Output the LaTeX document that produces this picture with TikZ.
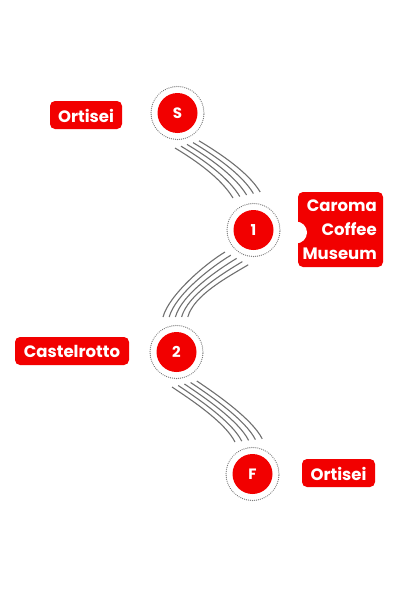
\documentclass[tikz,border=0pt]{standalone}
\usepackage{fontspec}
\setmainfont{Poppins}
\definecolor{mred}{HTML}{F20000}
\definecolor{lgray}{HTML}{707070}
\definecolor{dgray}{HTML}{7A7A7A}
\begin{document}
\begin{tikzpicture}[x=1pt,y=-1pt,
  stop/.style={circle,fill=mred,minimum size=40pt,inner sep=0pt,text=white,font=\bfseries\fontsize{15}{15}\selectfont},
  ring/.style={draw=dgray,line width=1.3pt,dash pattern=on 0.01pt off 2pt,line cap=round},
  tagtext/.style={text=white,font=\bfseries\fontsize{16.5}{16.5}\selectfont,inner sep=0pt},
  wire/.style={draw=lgray,line width=1.1pt}]
\useasboundingbox (0,0) rectangle (406,589);
% stops
\foreach \n/\x/\y/\t in {s/177.5/113/S,n1/253.5/230/1,n2/176.5/352/2,f/252.5/474/F}{
  \draw[ring] (\x,\y) circle[radius=26.5pt];
  \node[stop] (\n) at (\x,\y) {\t};
}
% labels
\fill[mred,rounded corners=5pt] (50,101) rectangle (122,129);
\node[tagtext] (l1) at (86,115.5) {Ortisei};
\fill[mred,rounded corners=5pt] (15,337) rectangle (129,365);
\node[tagtext] (l2) at (72,351.5) {Castelrotto};
\fill[mred,rounded corners=5pt] (302,459) rectangle (375,487);
\node[tagtext] (l3) at (338.5,473.5) {Ortisei};
\fill[mred,rounded corners=5pt] (298,192) rectangle (383,267);
\fill[white] (296,232.5) circle[radius=11pt];
\node[text=white,font=\bfseries\fontsize{16.5}{24}\selectfont,align=right,anchor=east,inner sep=0pt] (l4) at (377,230) {Caroma\\Coffee\\Museum};
% connector bundles
\foreach \i in {0,...,4}{
  \draw[wire] (175+6*\i,148-1.8*\i) .. controls (195+6*\i,160-1.8*\i) and (221+6.8*\i,178-1.5*\i) .. (233+6.8*\i,198-1.5*\i);
  \draw[wire] (225+5.8*\i,252+3.2*\i) .. controls (205+5.8*\i,264+3.2*\i) and (169+6.2*\i,295) .. (163+6.2*\i,317);
  \draw[wire] (172+6.2*\i,387-1.5*\i) .. controls (190+6.2*\i,399-1.5*\i) and (225+6.8*\i,422-0.8*\i) .. (235+6.8*\i,442-0.8*\i);
}
\end{tikzpicture}
\end{document}
